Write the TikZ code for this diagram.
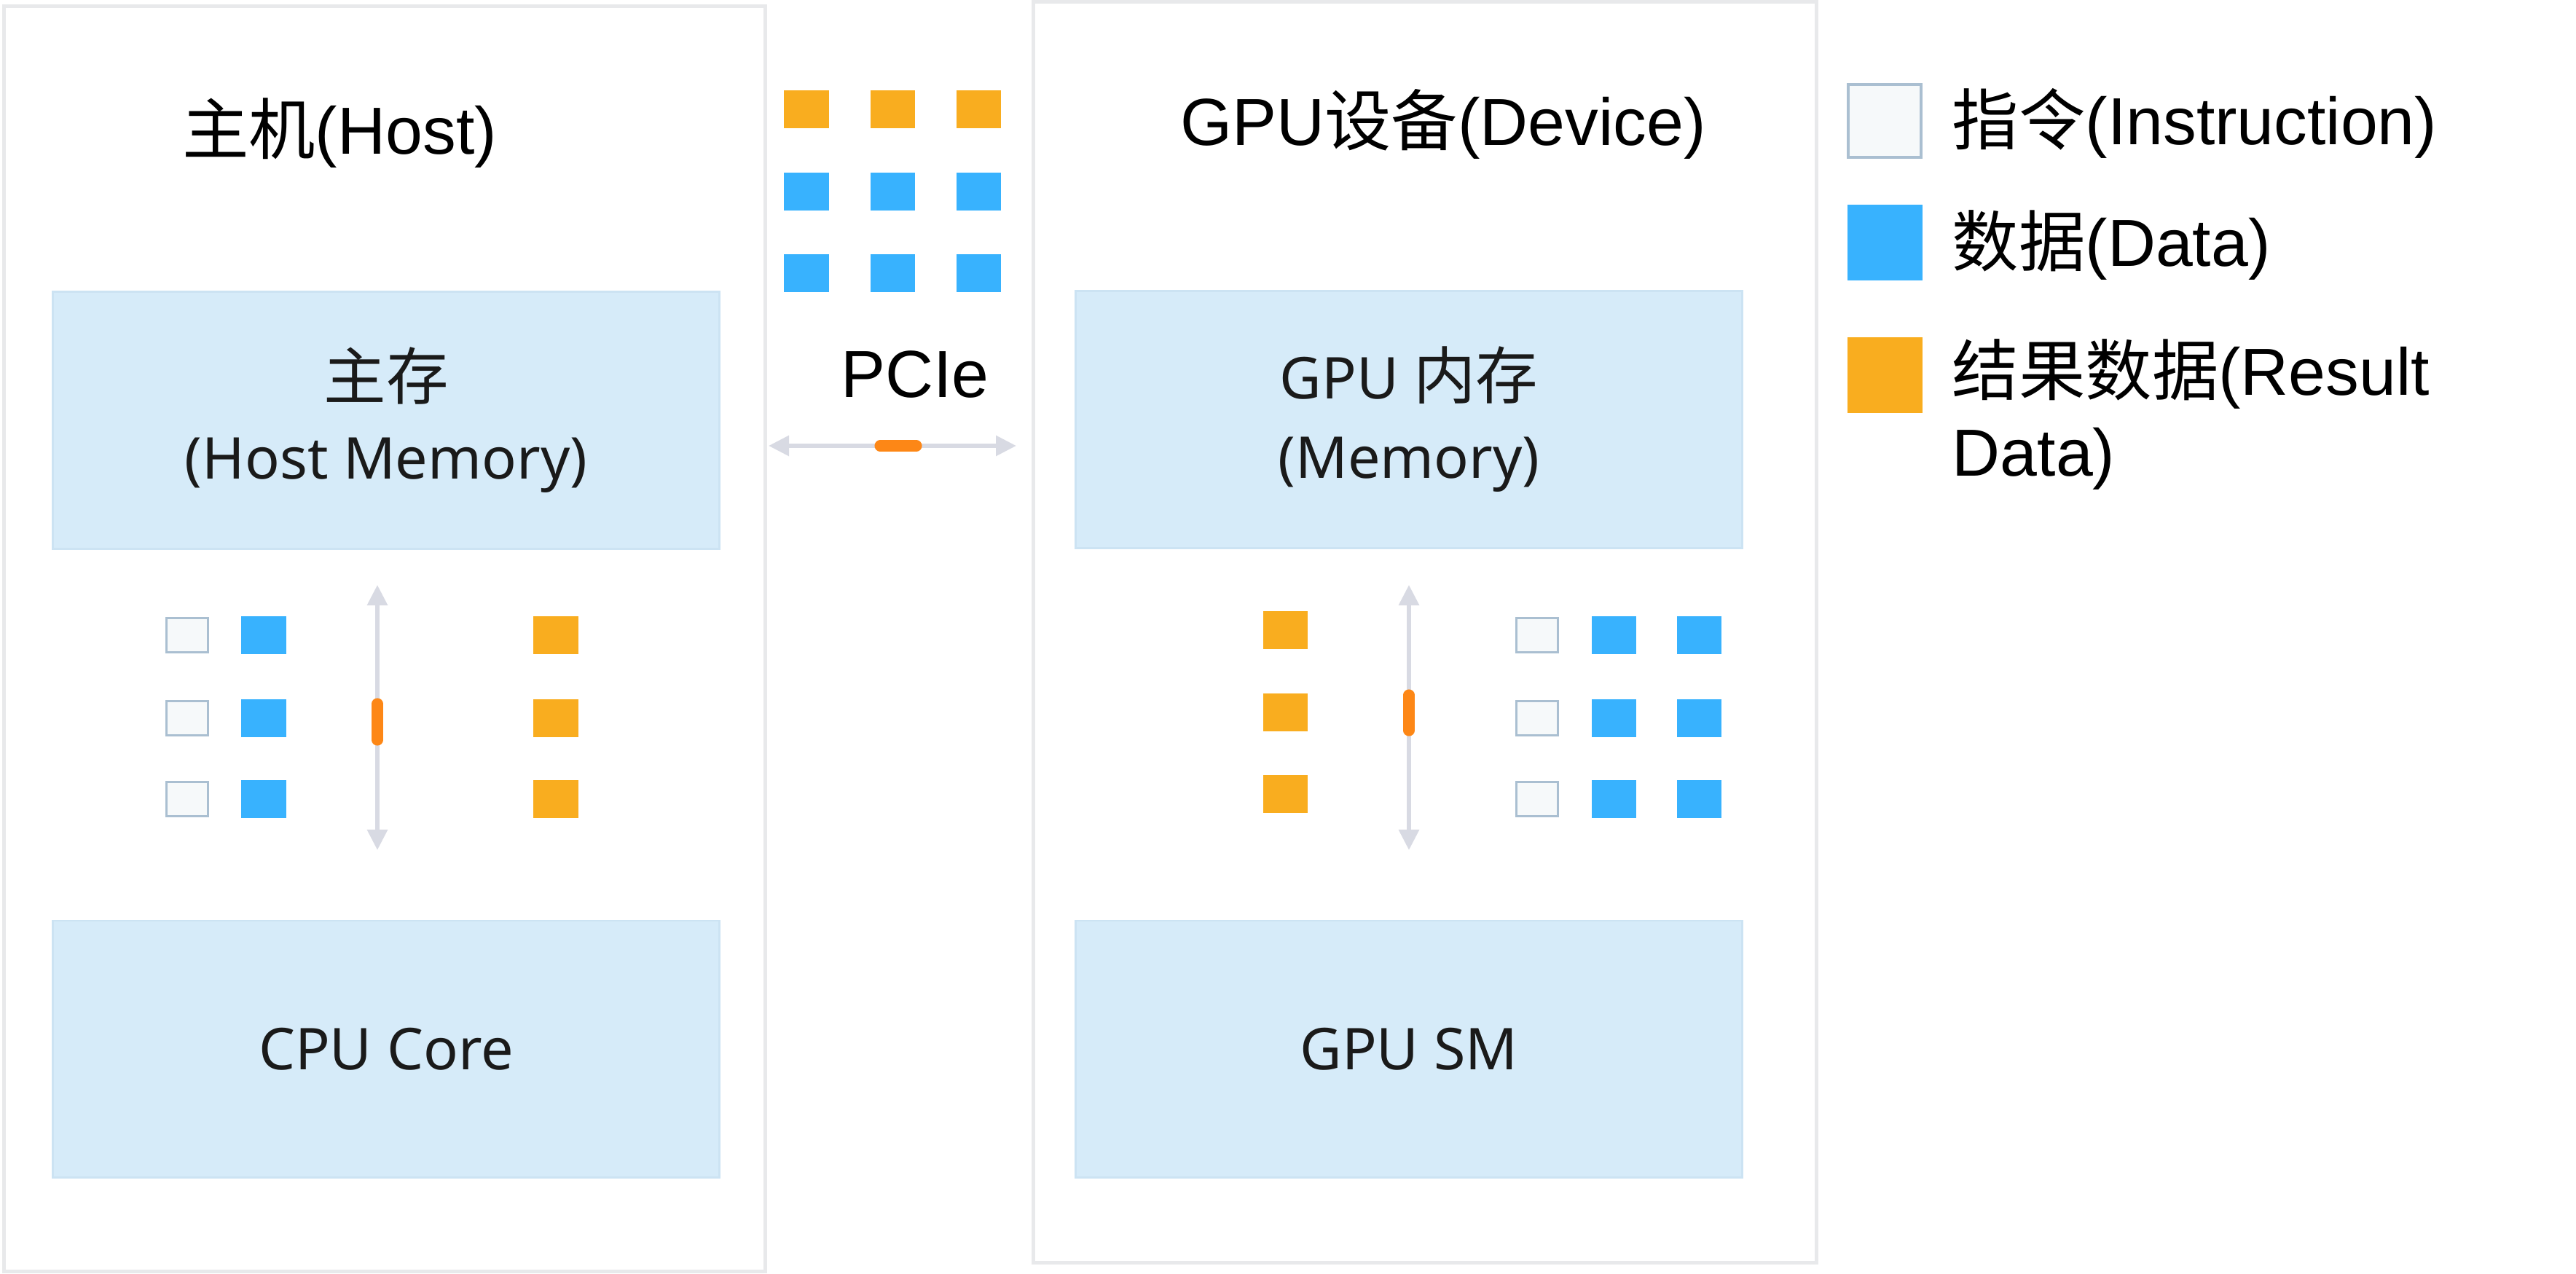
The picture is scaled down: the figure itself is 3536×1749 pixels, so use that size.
\documentclass[tikz,border=0pt]{standalone}
\usepackage{fontspec}
\setmainfont{Liberation Sans}
\newfontfamily\cjk{Noto Sans CJK SC}
\newfontfamily\boxcjk[Scale=1.08]{Noto Sans CJK SC}
\newfontfamily\boxfont{Noto Sans}
\usepackage{tikz}
\usetikzlibrary{arrows.meta,positioning}
\definecolor{framegray}{HTML}{E8E9EB}
\definecolor{memfill}{HTML}{D6EBF9}
\definecolor{memline}{HTML}{CCE3F3}
\definecolor{instrfill}{HTML}{F6F9FA}
\definecolor{instrline}{HTML}{AABFD1}
\definecolor{datablue}{HTML}{38B2FE}
\definecolor{resorange}{HTML}{F9AD1F}
\definecolor{pillorange}{HTML}{FD8716}
\definecolor{linkgray}{HTML}{D8DAE3}
\definecolor{labelblack}{HTML}{1A1A1A}
\tikzset{
  frame/.style={draw=framegray, line width=1.4pt, fill=white, inner sep=0},
  mem box/.style={draw=memline, line width=0.8pt, fill=memfill, minimum width=9.15cm,
    minimum height=3.52cm, align=center, text=labelblack,
    font=\boxfont\fontsize{22.5pt}{31pt}\selectfont},
  title/.style={font=\fontsize{26pt}{31.3pt}\selectfont, inner sep=0},
  instr/.style={draw=instrline, line width=1.1pt, fill=instrfill, minimum width=0.57cm,
    minimum height=0.47cm, inner sep=0},
  data/.style={fill=datablue, minimum width=0.61cm, minimum height=0.51cm, inner sep=0},
  res/.style={fill=resorange, minimum width=0.61cm, minimum height=0.51cm, inner sep=0},
  key/.style={minimum size=1.0cm, inner sep=0},
  link/.style={draw=linkgray, line width=1.7pt, <->},
  pill/.style={draw=pillorange, line width=4.3pt, line cap=round}
}
\begin{document}
\begin{tikzpicture}[x=0.01cm, y=-0.01cm, >={Triangle[length=0.28cm,width=0.27cm]}]
\useasboundingbox (0,0) rectangle (3536,1749);

% host and device frames
\node[frame, minimum width=10.44cm, minimum height=17.36cm] (host) at (528,877) {};
\node[frame, minimum width=10.75cm, minimum height=17.30cm] (dev) at (1956,868) {};

\node[title, anchor=base] (hosttitle) at (466,212) {{\cjk 主机}(Host)};
\node[title, anchor=base] (devtitle) at (1981,200) {GPU{\cjk 设备}(Device)};

\node[mem box] (hmem) at (530,577) {{\boxcjk 主存}\\(Host Memory)};
\node[mem box] (hcore) at (530,1440) {CPU Core};
\node[mem box] (dmem) at (1934,576) {GPU {\boxcjk 内存}\\(Memory)};
\node[mem box] (dsm) at (1934,1440) {GPU SM};

% PCIe packets
\node[res] (p11) at (1107,150) {};
\node[res, right=0.56cm of p11] (p12) {};
\node[res, right=0.56cm of p12] (p13) {};
\node[data] (p21) at (1107,263) {};
\node[data, right=0.56cm of p21] (p22) {};
\node[data, right=0.56cm of p22] (p23) {};
\node[data] (p31) at (1107,375) {};
\node[data, right=0.56cm of p31] (p32) {};
\node[data, right=0.56cm of p32] (p33) {};

\node[title, anchor=base] (pcie) at (1256,545) {PCIe};
\coordinate (pl) at (1055,612);
\coordinate (pr) at (1395,612);
\coordinate (pa) at (1208,612);
\coordinate (pb) at (1258,612);
\draw[link] (pl) -- (pr);
\draw[pill] (pa) -- (pb);

% host side
\node[instr] (hi1) at (257,872) {};
\node[instr] (hi2) at (257,986) {};
\node[instr] (hi3) at (257,1097) {};
\node[data] (hd1) at (362,872) {};
\node[data] (hd2) at (362,986) {};
\node[data] (hd3) at (362,1097) {};
\node[res] (hr1) at (763,872) {};
\node[res] (hr2) at (763,986) {};
\node[res] (hr3) at (763,1097) {};
\coordinate (hu) at (518,803);
\coordinate (hl) at (518,1167);
\coordinate (ha) at (518,966);
\coordinate (hb) at (518,1016);
\draw[link] (hu) -- (hl);
\draw[pill] (ha) -- (hb);

% device side
\node[res] (dr1) at (1764,865) {};
\node[res] (dr2) at (1764,978) {};
\node[res] (dr3) at (1764,1090) {};
\node[instr] (di1) at (2110,872) {};
\node[instr] (di2) at (2110,986) {};
\node[instr] (di3) at (2110,1097) {};
\node[data] (da1) at (2215,872) {};
\node[data] (da2) at (2215,986) {};
\node[data] (da3) at (2215,1097) {};
\node[data] (db1) at (2332,872) {};
\node[data] (db2) at (2332,986) {};
\node[data] (db3) at (2332,1097) {};
\coordinate (du) at (1934,803);
\coordinate (dl) at (1934,1167);
\coordinate (da) at (1934,954);
\coordinate (db) at (1934,1003);
\draw[link] (du) -- (dl);
\draw[pill] (da) -- (db);

% legend
\node[instr, key] (keyi) at (2587,166) {};
\node[data, key, minimum size=1.03cm] (keyd) at (2587,333) {};
\node[res, key, minimum size=1.03cm] (keyr) at (2587,515) {};
\node[title, anchor=base west] (texti) at (2679,199) {{\cjk 指令}(Instruction)};
\node[title, anchor=base west] (textd) at (2679,366) {{\cjk 数据}(Data)};
\node[title, anchor=base west, align=left] (textr) at (2679,653) {{\cjk 结果数据}(Result\\Data)};
\end{tikzpicture}
\end{document}
